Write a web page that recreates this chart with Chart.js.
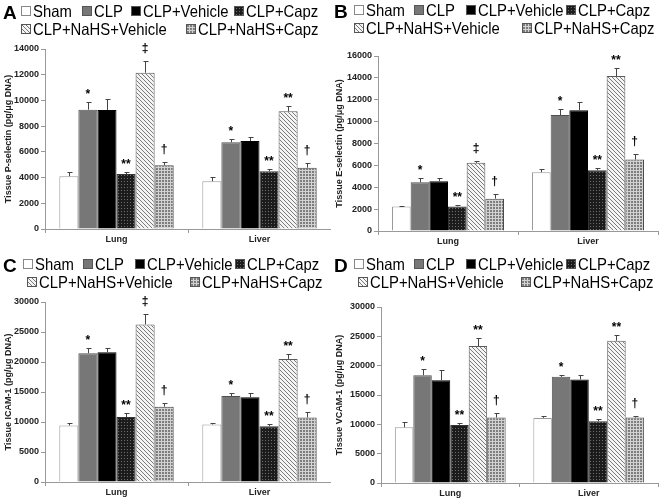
<!DOCTYPE html>
<html><head><meta charset="utf-8">
<script src="https://cdn.jsdelivr.net/npm/chart.js@4.4.1/dist/chart.umd.min.js"></script>
<style>
body{margin:0;background:#fff;width:662px;height:500px;position:relative;overflow:hidden;font-family:"Liberation Sans",Arial,sans-serif}
.panel{position:absolute;width:331px;height:250px}
.panel canvas{position:absolute;left:0;top:0}
.letter{position:absolute;font-weight:bold;font-size:19px;line-height:19px;color:#000}
.lg{position:absolute;font-size:16.5px;line-height:18px;white-space:nowrap;color:#000;transform:scaleX(0.9);transform-origin:0 50%}
.sw{position:absolute;width:10px;height:10px;border:1px solid #777;box-sizing:border-box}
</style></head><body>
<script>
// ---------- DATA ----------
const categories = ['Lung', 'Liver'];
const seriesNames = ['Sham', 'CLP', 'CLP+Vehicle', 'CLP+Capz', 'CLP+NaHS+Vehicle', 'CLP+NaHS+Capz'];

// Panel A: Tissue P-selectin  (values per series: [Lung, Liver])
const pselValues = [[4100, 3710], [9280, 6740], [9260, 6840], [4280, 4490], [12160, 9150], [4950, 4770]];
const pselErrors = [[310, 310], [570, 290], [830, 320], [130, 200], [880, 390], [290, 360]];
const pselMarks  = [['', ''], ['*', '*'], ['', ''], ['**', '**'], ['‡', '**'], ['†', '†']];
const pselTicks  = {max: 14000, step: 2000};

// Panel B: Tissue E-selectin
const eselValues = [[2230, 5370], [4460, 10600], [4550, 11050], [2250, 5560], [6230, 14170], [2960, 6530]];
const eselErrors = [[90, 280], [390, 600], [300, 750], [130, 240], [210, 700], [430, 550]];
const eselMarks  = [['', ''], ['*', '*'], ['', ''], ['**', '**'], ['‡', '**'], ['†', '†']];
const eselTicks  = {max: 16000, step: 2000};

// Panel C: Tissue ICAM-1
const icamValues = [[9420, 9590], [21470, 14330], [21640, 14110], [10820, 9310], [26270, 20520], [12550, 10760]];
const icamErrors = [[450, 280], [930, 450], [760, 670], [670, 390], [1730, 780], [550, 840]];
const icamMarks  = [['', ''], ['*', '*'], ['', ''], ['**', '**'], ['‡', '**'], ['†', '†']];
const icamTicks  = {max: 30000, step: 5000};

// Panel D: Tissue VCAM-1
const vcamValues = [[9500, 11100], [18380, 18100], [17530, 17640], [9900, 10530], [23340, 24250], [11160, 11160]];
const vcamErrors = [[860, 280], [1020, 280], [1770, 690], [400, 400], [1310, 1020], [740, 220]];
const vcamMarks  = [['', ''], ['*', '*'], ['', ''], ['**', '**'], ['**', '**'], ['†', '†']];
const vcamTicks  = {max: 30000, step: 5000};

// ---------- STYLES ----------
function pat(w, h, bg, draw) {
  const c = document.createElement('canvas'); c.width = w; c.height = h;
  const x = c.getContext('2d'); x.fillStyle = bg; x.fillRect(0, 0, w, h); draw(x);
  return c;
}
const dotC = pat(3, 3, '#1c1c1c', x => { x.fillStyle = '#6e6e6e'; x.fillRect(1, 1, 1, 1); });
const diagC = pat(4, 4, '#f4f4f4', x => { x.fillStyle = '#7a7a7a'; for (let i = 0; i < 4; i++) x.fillRect(i, i, 1, 1); });
const gridC = pat(3, 3, '#7e7e7e', x => { x.fillStyle = '#d2d2d2'; x.fillRect(0, 2, 3, 1); x.fillRect(2, 0, 1, 3); });
const pctx = document.createElement('canvas').getContext('2d');
const fills = ['#ffffff', '#777777', '#000000', pctx.createPattern(dotC, 'repeat'), pctx.createPattern(diagC, 'repeat'), pctx.createPattern(gridC, 'repeat')];
const swatchBg = ['#ffffff', '#777777', '#000000', 'url(' + dotC.toDataURL() + ')', 'url(' + diagC.toDataURL() + ')', 'url(' + gridC.toDataURL() + ')'];
const borders = ['#9a9a9a', '#505050', '#000000', '#333333', '#5a5a5a', '#4a4a4a'];

const errPlugin = {
  id: 'errbars',
  afterDatasetsDraw(chart) {
    const ctx = chart.ctx, ys = chart.scales.y;
    ctx.save();
    chart.data.datasets.forEach((ds, di) => {
      const meta = chart.getDatasetMeta(di);
      meta.data.forEach((bar, i) => {
        const v = ds.data[i], e = ds.errors[i];
        const xt = Math.round(bar.x) + 0.5;
        const yTop = ys.getPixelForValue(v + e);
        ctx.strokeStyle = '#444'; ctx.lineWidth = 1;
        ctx.beginPath();
        ctx.moveTo(xt, bar.y); ctx.lineTo(xt, Math.round(yTop) + 0.5);
        ctx.moveTo(xt - 2, Math.round(yTop) + 0.5); ctx.lineTo(xt + 3, Math.round(yTop) + 0.5);
        ctx.stroke();
        const m = ds.marks[i];
        if (m) {
          ctx.fillStyle = '#000';
          ctx.textAlign = 'center';
          ctx.textBaseline = 'alphabetic';
          ctx.font = 'bold 12px "Liberation Sans", Arial, sans-serif';
          const off = m.indexOf('*') >= 0 ? 4 : 9;
          ctx.fillText(m, bar.x, yTop - off);
        }
      });
    });
    ctx.restore();
  }
};

const panels = [
  {id: 'A', left: 0, top: 0, title: 'Tissue P-selectin (pg/μg DNA)', values: pselValues, errors: pselErrors, marks: pselMarks, ticks: pselTicks,
   padTop: 49, padRight: 0, yw: 45, xh: 21, lgTop: 2, boxes: [21, 82, 131, 234, 21, 186]},
  {id: 'B', left: 331, top: 0, title: 'Tissue E-selectin (pg/μg DNA)', values: eselValues, errors: eselErrors, marks: eselMarks, ticks: eselTicks,
   padTop: 56, padRight: 4, yw: 47, xh: 19, lgTop: 1, boxes: [23, 83, 135, 235, 23, 191]},
  {id: 'C', left: 0, top: 250, title: 'Tissue ICAM-1 (pg/μg DNA)', values: icamValues, errors: icamErrors, marks: icamMarks, ticks: icamTicks,
   padTop: 52, padRight: 0, yw: 45, xh: 18, lgTop: 5, boxes: [23, 83, 135, 235, 27, 190]},
  {id: 'D', left: 331, top: 250, title: 'Tissue VCAM-1 (pg/μg DNA)', values: vcamValues, errors: vcamErrors, marks: vcamMarks, ticks: vcamTicks,
   padTop: 57, padRight: 4, yw: 50, xh: 17, lgTop: 5, boxes: [23, 83, 135, 235, 27, 190]}
];

const tickFont = {family: '"Liberation Sans", Arial, sans-serif', size: 9, weight: 'bold'};

panels.forEach(p => {
  const div = document.createElement('div');
  div.className = 'panel'; div.style.left = p.left + 'px'; div.style.top = p.top + 'px';
  document.body.appendChild(div);
  const cv = document.createElement('canvas'); cv.width = 331; cv.height = 250;
  cv.style.width = '331px'; cv.style.height = '250px';
  div.appendChild(cv);
  // panel letter
  const L = document.createElement('div'); L.className = 'letter'; L.textContent = p.id;
  L.style.left = '3px'; L.style.top = (p.lgTop + 1) + 'px'; div.appendChild(L);
  // legend
  seriesNames.forEach((n, i) => {
    const row = i < 4 ? 0 : 1;
    const bx = p.boxes[i];
    const yTop = p.lgTop + row * 18;
    const sw = document.createElement('div'); sw.className = 'sw';
    sw.style.left = bx + 'px'; sw.style.top = (yTop + 4) + 'px';
    sw.style.background = swatchBg[i];
    sw.style.borderColor = i === 0 ? '#888' : '#555';
    div.appendChild(sw);
    const t = document.createElement('div'); t.className = 'lg'; t.textContent = n;
    t.style.left = (bx + 12) + 'px'; t.style.top = yTop + 'px';
    div.appendChild(t);
  });

  new Chart(cv, {
    type: 'bar',
    data: {
      labels: categories,
      datasets: seriesNames.map((n, i) => ({
        label: n, data: p.values[i], errors: p.errors[i], marks: p.marks[i],
        backgroundColor: fills[i], borderColor: borders[i], borderWidth: 1,
        categoryPercentage: 0.8, barPercentage: 1
      }))
    },
    options: {
      responsive: false, animation: false, devicePixelRatio: 1,
      layout: {padding: {top: p.padTop, right: p.padRight, left: 0, bottom: 0}},
      plugins: {legend: {display: false}, tooltip: {enabled: false}},
      scales: {
        x: {
          grid: {offset: true, drawOnChartArea: false, drawTicks: true, tickLength: 4, color: '#999'},
          border: {color: '#999'},
          ticks: {font: tickFont, color: '#222', padding: 1},
          afterFit(s) { s.height = p.xh; }
        },
        y: {
          min: 0, max: p.ticks.max,
          ticks: {stepSize: p.ticks.step, font: tickFont, color: '#222', padding: 2, callback: v => String(v)},
          grid: {drawOnChartArea: false, drawTicks: true, tickLength: 4, color: '#999'},
          border: {color: '#999'},
          title: {display: true, text: p.title, font: tickFont, color: '#222', padding: {top: 3, bottom: 0}},
          afterFit(s) { s.width = p.yw; }
        }
      }
    },
    plugins: [errPlugin]
  });
});
</script>
</body></html>
